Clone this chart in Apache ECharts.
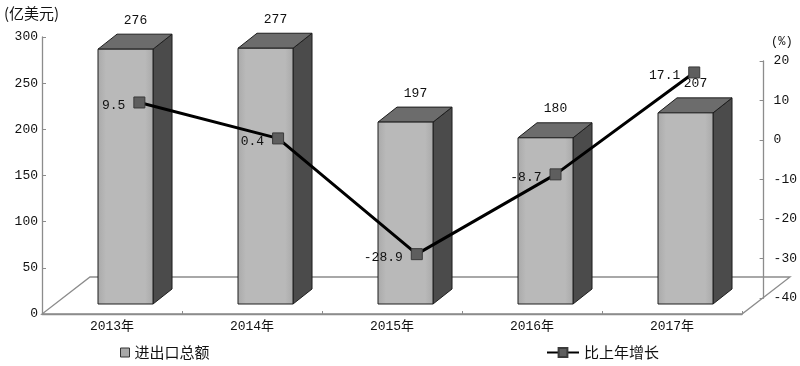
<!DOCTYPE html>
<html><head><meta charset="utf-8">
<script src="https://cdn.jsdelivr.net/npm/echarts@6/dist/echarts.min.js"></script>
<style>html,body{margin:0;padding:0;background:#fff}#c{width:800px;height:366px}</style>
</head><body><div id="c"></div>
<script>
// ---- data ----
const categories = ['2013年', '2014年', '2015年', '2016年', '2017年'];
const totals = [276, 277, 197, 180, 207];          // 进出口总额 (亿美元)
const growth = [9.5, 0.4, -28.9, -8.7, 17.1];      // 比上年增长 (%)
const leftTicks = [0, 50, 100, 150, 200, 250, 300];
const rightTicks = [-40, -30, -20, -10, 0, 10, 20];

// ---- styling ----
const MONO = '"Liberation Mono","Noto Sans CJK SC",monospace';
const CJK = '"Noto Sans CJK SC",sans-serif';
const AX = '#8c8c8c';

const chart = echarts.init(document.getElementById('c'), null, { renderer: 'canvas' });

function renderBar(params, api) {
  const i = api.value(0), v = api.value(1);
  const band = api.size([1, 0])[0];
  const base = api.coord([i, 0]);
  const top = api.coord([i, v]);
  const shiftY = 10;
  const xl = base[0] - band * 0.1;
  const w = band * 0.393;
  const xr = xl + w;
  const yb = base[1] - shiftY;
  const yt = top[1] - shiftY;
  const dx = 19, dy = -15;
  const children = [];
  if (params.dataIndex === 0) {
    const r = params.coordSys;
    const fy = r.y + r.height;
    children.push({
      type: 'polygon', silent: true,
      shape: { points: [[r.x, fy], [r.x + r.width, fy], [r.x + r.width + 48, fy - 37], [r.x + 48, fy - 37]] },
      style: { fill: 'none', stroke: AX, lineWidth: 1.3 }
    });
  }
  children.push({
    type: 'polygon',
    shape: { points: [[xr, yt], [xr + dx, yt + dy], [xr + dx, yb + dy], [xr, yb]] },
    style: { fill: '#4b4b4b', stroke: '#1e1e1e', lineWidth: 1 }
  });
  children.push({
    type: 'polygon',
    shape: { points: [[xl, yt], [xl + dx, yt + dy], [xr + dx, yt + dy], [xr, yt]] },
    style: { fill: '#6c6c6c', stroke: '#1e1e1e', lineWidth: 1 }
  });
  children.push({
    type: 'rect',
    shape: { x: xl, y: yt, width: w, height: yb - yt },
    style: {
      fill: new echarts.graphic.LinearGradient(0, 0, 1, 0, [
        { offset: 0, color: '#a9a9a9' }, { offset: 0.15, color: '#b9b9b9' },
        { offset: 0.85, color: '#b9b9b9' }, { offset: 1, color: '#a9a9a9' }
      ]),
      stroke: '#1e1e1e', lineWidth: 1
    }
  });
  children.push({
    type: 'text',
    style: {
      x: xl + w / 2 + 10, y: yt - 29, text: String(v),
      align: 'center', verticalAlign: 'middle',
      fill: '#111', font: '13px ' + MONO
    }
  });
  return { type: 'group', children: children };
}

const option = {
  animation: false,
  backgroundColor: '#fff',
  graphic: [
    { type: 'text', left: 4, top: 6, style: { text: '(亿美元)', fill: '#111', font: '15px ' + CJK } },
    { type: 'text', left: 771, top: 36, style: { text: '(%)', fill: '#111', font: '12px ' + MONO } }
  ],
  legend: [
    {
      data: ['进出口总额'], left: 115, top: 340, icon: 'rect', itemWidth: 9, itemHeight: 9, itemGap: 5,
      itemStyle: { borderColor: '#333', borderWidth: 1 },
      textStyle: { fontSize: 15, fontFamily: CJK, color: '#111' }
    },
    {
      data: ['比上年增长'], left: 541, top: 340, itemWidth: 32, itemHeight: 11,
      textStyle: { fontSize: 15, fontFamily: CJK, color: '#111' }
    }
  ],
  grid: [
    { left: 42, right: 58, top: 37, bottom: 52 },
    { left: 70, right: 36, top: 61, bottom: 68 }
  ],
  xAxis: [
    {
      type: 'category', gridIndex: 0, data: categories,
      axisLine: { lineStyle: { color: AX, width: 1.3 } },
      axisTick: { show: true, inside: true, length: 3, lineStyle: { color: AX } },
      axisLabel: { margin: 6, fontSize: 13, fontFamily: MONO, color: '#111' },
      splitLine: { show: false }
    },
    {
      type: 'category', gridIndex: 1, data: categories, show: false
    }
  ],
  yAxis: [
    {
      type: 'value', gridIndex: 0, min: leftTicks[0], max: leftTicks[leftTicks.length - 1],
      interval: leftTicks[1] - leftTicks[0],
      axisLine: { show: true, lineStyle: { color: AX, width: 1.3 } },
      axisTick: { show: true, inside: true, length: 4, lineStyle: { color: AX } },
      axisLabel: { margin: 4, fontSize: 13, fontFamily: MONO, color: '#111' },
      splitLine: { show: false }
    },
    {
      type: 'value', gridIndex: 1, position: 'right',
      min: rightTicks[0], max: rightTicks[rightTicks.length - 1], interval: rightTicks[1] - rightTicks[0],
      axisLine: { show: true, lineStyle: { color: AX, width: 1.3 } },
      axisTick: { show: true, inside: true, length: 4, lineStyle: { color: AX } },
      axisLabel: { margin: 10, fontSize: 13, fontFamily: MONO, color: '#111' },
      splitLine: { show: false }
    }
  ],
  series: [
    {
      name: '进出口总额', type: 'custom', xAxisIndex: 0, yAxisIndex: 0,
      renderItem: renderBar,
      itemStyle: { color: '#a8a8a8', borderColor: '#333', borderWidth: 1 },
      encode: { x: 0, y: 1 },
      data: totals.map((v, i) => [i, v]),
      z: 2
    },
    {
      name: '比上年增长', type: 'line', xAxisIndex: 1, yAxisIndex: 1,
      data: growth,
      symbol: 'rect', symbolSize: 11,
      itemStyle: { color: '#5e5e5e', borderColor: '#3a3a3a', borderWidth: 1 },
      lineStyle: { color: '#000', width: 3 },
      label: {
        show: true, position: 'left', distance: 8, offset: [0, 3],
        formatter: p => String(p.value), fontSize: 13, fontFamily: MONO, color: '#111'
      },
      z: 5
    }
  ]
};
chart.setOption(option);
</script>
</body></html>
